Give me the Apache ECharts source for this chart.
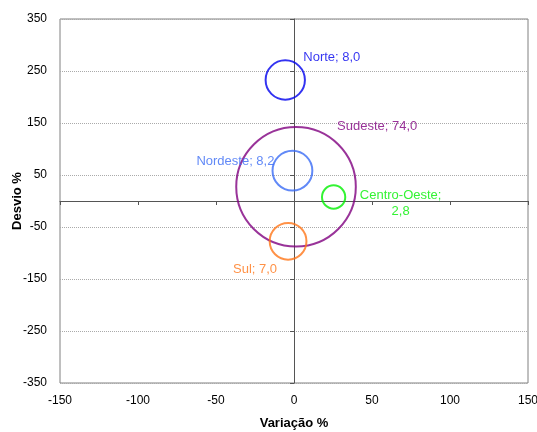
<!DOCTYPE html>
<html><head><meta charset="utf-8">
<script src="https://cdn.jsdelivr.net/npm/echarts@6/dist/echarts.min.js"></script>
<style>html,body{margin:0;padding:0;background:#fff}#c{width:537px;height:432px}</style>
</head><body><div id="c"></div>
<script>
// Data
var regions = ['Norte', 'Sudeste', 'Nordeste', 'Centro-Oeste', 'Sul'];
var variacao = [-5.6, 1.3, -1.0, 25.4, -3.8];
var desvio = [232.7, 27.5, 58.3, 7.7, -77.5];
var participacao = [8.0, 74.0, 8.2, 2.8, 7.0];
var xTicks = [-150, -100, -50, 0, 50, 100, 150];
var yTicks = [-350, -250, -150, -50, 50, 150, 250, 350];

// Styles (kept separate from data)
var colors = ['#0000ee', '#800080', '#3a6cf5', '#00f000', '#ff7518'];
var labelStyle = [
  {align: 'left', offset: [18, -23]},
  {align: 'left', offset: [41, -60]},
  {align: 'right', offset: [-18, -9]},
  {align: 'center', offset: [67, 6]},
  {align: 'right', offset: [-11, 28]}
];
var FONT = 'Liberation Sans, Arial, sans-serif';

function fmt(v) { return v.toFixed(1).replace('.', ','); }

var series = regions.map(function (name, i) {
  var txt = name === 'Centro-Oeste' ? name + ';\n' + fmt(participacao[i]) : name + '; ' + fmt(participacao[i]);
  return {
    type: 'scatter',
    name: name,
    xAxisIndex: 0,
    yAxisIndex: 0,
    symbol: 'circle',
    symbolSize: function (d) { return 13.9 * Math.sqrt(d[2]); },
    data: [[variacao[i], desvio[i], participacao[i]]],
    itemStyle: {color: 'rgba(0,0,0,0)', borderColor: colors[i], borderWidth: 2},
    emphasis: {disabled: true},
    label: {
      show: true,
      position: 'inside',
      formatter: txt,
      align: labelStyle[i].align,
      verticalAlign: 'middle',
      offset: labelStyle[i].offset,
      color: colors[i],
      fontSize: 13,
      lineHeight: 16,
      fontFamily: FONT
    },
    z: 5
  };
});

var chart = echarts.init(document.getElementById('c'), null, {renderer: 'canvas'});
chart.setOption({
  animation: false,
  backgroundColor: '#fff',
  grid: {left: 60, right: 9, top: 19, bottom: 49, show: true, borderColor: '#808080', borderWidth: 1, backgroundColor: 'transparent', containLabel: false, outerBoundsMode: 'none'},
  xAxis: [
    {
      type: 'value', min: xTicks[0], max: xTicks[xTicks.length - 1], interval: 50,
      position: 'bottom',
      axisLine: {show: false, onZero: false},
      axisTick: {show: false},
      splitLine: {show: false},
      axisLabel: {color: '#000', fontSize: 12, fontFamily: FONT, margin: 12},
      name: 'Variação %', nameLocation: 'middle', nameGap: 34, nameMoveOverlap: false,
      nameTextStyle: {color: '#000', fontSize: 13, fontWeight: 'bold', fontFamily: FONT}
    },
    {
      type: 'value', min: xTicks[0], max: xTicks[xTicks.length - 1], interval: 50,
      position: 'bottom',
      axisLine: {show: true, onZero: true, lineStyle: {color: '#555', width: 1}},
      axisTick: {show: true, length: 4, lineStyle: {color: '#555'}},
      axisLabel: {show: false},
      splitLine: {show: false}
    }
  ],
  yAxis: [
    {
      type: 'value', min: yTicks[0], max: yTicks[yTicks.length - 1], interval: 100,
      position: 'left',
      axisLine: {show: false, onZero: false},
      axisTick: {show: false},
      splitLine: {show: true, lineStyle: {color: '#aaa', type: 'dotted', width: 1}},
      axisLabel: {color: '#000', fontSize: 12, fontFamily: FONT, margin: 13},
      name: 'Desvio %', nameLocation: 'middle', nameGap: 36, nameMoveOverlap: false,
      nameTextStyle: {color: '#000', fontSize: 13, fontWeight: 'bold', fontFamily: FONT}
    },
    {
      type: 'value', min: yTicks[0], max: yTicks[yTicks.length - 1], interval: 100,
      position: 'left',
      axisLine: {show: true, onZero: true, lineStyle: {color: '#555', width: 1}},
      axisTick: {show: true, length: 4, lineStyle: {color: '#555'}},
      axisLabel: {show: false},
      splitLine: {show: false}
    }
  ],
  series: series
});
</script>
</body></html>
